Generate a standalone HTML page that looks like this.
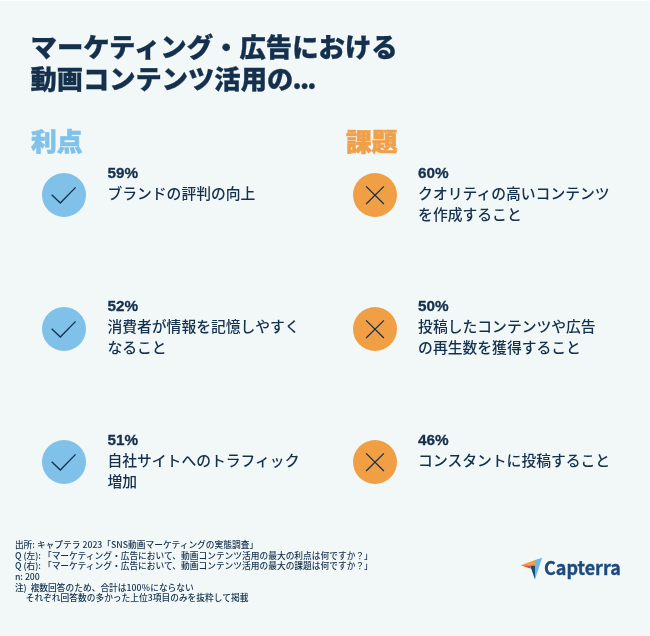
<!DOCTYPE html>
<html lang="ja">
<head>
<meta charset="utf-8">
<title>マーケティング・広告における動画コンテンツ活用の...</title>
<style>
html,body{margin:0;padding:0;}
body{width:650px;height:636px;background:#f2f8f8;position:relative;overflow:hidden;
  font-family:"Liberation Sans","Noto Sans CJK JP",sans-serif;color:#14304d;}
h1{position:absolute;left:30.5px;top:29.5px;margin:0;font-family:"Noto Sans CJK JP Black","Noto Sans CJK JP","Liberation Sans",sans-serif;
  font-weight:900;font-size:26.38px;line-height:32px;color:#14304d;white-space:nowrap;-webkit-text-stroke:0.3px #14304d;}
h2{position:absolute;margin:0;font-family:"Noto Sans CJK JP Black","Noto Sans CJK JP","Liberation Sans",sans-serif;font-weight:900;font-size:25px;line-height:30px;white-space:nowrap;-webkit-text-stroke:0.6px currentColor;transform:scaleX(1.03);transform-origin:0 0;}
h2.pro{left:31px;top:124.6px;color:#82c1e8;}
h2.con{left:345.6px;top:124.6px;color:#f0a04b;}
.circle{position:absolute;width:44px;height:44px;border-radius:50%;}
.circle.b{background:#7fc1e9;left:41.85px;}
.circle.o{background:#f09f45;left:352.85px;}
.circle svg{position:absolute;left:0;top:0;width:100%;height:100%;}
.item{position:absolute;font-family:"Noto Sans CJK JP Medium","Noto Sans CJK JP","Liberation Sans",sans-serif;font-size:14.8px;font-weight:500;line-height:21px;color:#14304d;white-space:nowrap;}
.item b{display:block;font-family:"Liberation Sans","Noto Sans CJK JP",sans-serif;font-weight:700;font-size:15.3px;line-height:20px;position:relative;top:0.8px;left:0;-webkit-text-stroke:0.3px #14304d;}
.foot{position:absolute;left:14.9px;top:540.2px;font-family:"Noto Sans CJK JP Medium","Noto Sans CJK JP","Liberation Sans",sans-serif;font-size:8.72px;font-weight:500;line-height:10.6px;color:#14304d;white-space:pre;}
.logo{position:absolute;left:515px;top:552px;width:125px;height:34px;}
</style>
</head>
<body>
<div style="position:absolute;left:0;top:0;width:650px;height:1px;background:#fcfefe"></div>
<h1>マーケティング・広告における<br><span style="font-size:26.27px">動画コンテンツ活用の<span style="letter-spacing:-1.8px;margin-left:-0.7px">...</span></span></h1>
<h2 class="pro">利点</h2>
<h2 class="con">課題</h2>

<div class="circle b" style="top:172.7px"><svg viewBox="0 0 44 44"><path d="M9.7 21.7 L18.3 30.0 L33.6 14.4" fill="none" stroke="#14304d" stroke-width="1.35"/></svg></div>
<div class="item" style="left:107.4px;top:162px"><b>59%</b>ブランドの評判の向上</div>

<div class="circle b" style="top:306.5px"><svg viewBox="0 0 44 44"><path d="M9.7 21.7 L18.3 30.0 L33.6 14.4" fill="none" stroke="#14304d" stroke-width="1.35"/></svg></div>
<div class="item" style="left:107.4px;top:295.3px"><b>52%</b>消費者が情報を記憶しやすく<br>なること</div>

<div class="circle b" style="top:440.3px"><svg viewBox="0 0 44 44"><path d="M9.7 21.7 L18.3 30.0 L33.6 14.4" fill="none" stroke="#14304d" stroke-width="1.35"/></svg></div>
<div class="item" style="left:107.4px;top:429.3px"><b>51%</b>自社サイトへのトラフィック<br>増加</div>

<div class="circle o" style="top:172.7px"><svg viewBox="0 0 44 44"><path d="M13.1 13.4 L30.9 31 M30.9 13.4 L13.1 31" fill="none" stroke="#14304d" stroke-width="1.25"/></svg></div>
<div class="item" style="left:418.1px;top:161.9px"><b>60%</b>クオリティの高いコンテンツ<br>を作成すること</div>

<div class="circle o" style="top:306.5px"><svg viewBox="0 0 44 44"><path d="M13.1 13.4 L30.9 31 M30.9 13.4 L13.1 31" fill="none" stroke="#14304d" stroke-width="1.25"/></svg></div>
<div class="item" style="left:418.1px;top:295.3px"><b>50%</b>投稿したコンテンツや広告<br>の再生数を獲得すること</div>

<div class="circle o" style="top:440.3px"><svg viewBox="0 0 44 44"><path d="M13.1 13.4 L30.9 31 M30.9 13.4 L13.1 31" fill="none" stroke="#14304d" stroke-width="1.25"/></svg></div>
<div class="item" style="left:418.1px;top:429.2px"><b>46%</b>コンスタントに投稿すること</div>

<div class="foot">出所: キャプテラ 2023「SNS動画マーケティングの実態調査」
Q (左): 「マーケティング・広告において、動画コンテンツ活用の最大の利点は何ですか？」
Q (右): 「マーケティング・広告において、動画コンテンツ活用の最大の課題は何ですか？」
n: 200
注)  複数回答のため、合計は100％にならない
<span style="display:inline-block;width:10.8px"></span>それぞれ回答数の多かった上位3項目のみを抜粋して掲載</div>

<svg class="logo" viewBox="515 552 125 34">
  <polygon points="520.7,565.2 535,560 535,565.6" fill="#f09f45"/>
  <polygon points="520.7,565.2 530.1,565.6 530.9,568.7" fill="#e0483e"/>
  <polygon points="530.1,565.6 535,565.6 535,579.5" fill="#1f4a7d"/>
  <polygon points="535,560 542.1,557.7 535,579.5" fill="#6cb8e6"/>
  <text x="544" y="575.2" font-family="Noto Sans CJK JP, Liberation Sans, sans-serif" font-weight="700" font-size="18.6" textLength="76.8" stroke="#1f4a7d" stroke-width="0.35" lengthAdjust="spacingAndGlyphs" fill="#1f4a7d">Capterra</text>
</svg>
</body>
</html>
